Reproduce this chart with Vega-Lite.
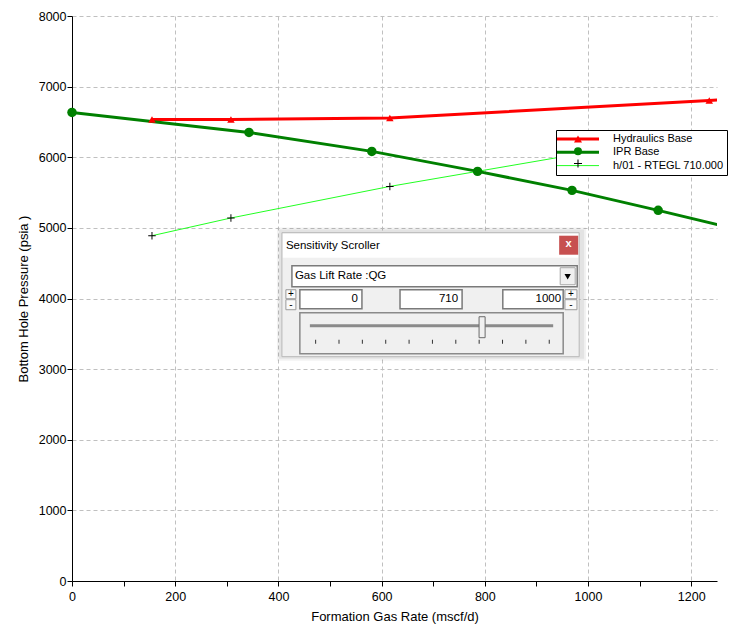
{
  "$schema": "https://vega.github.io/schema/vega-lite/v6.json",
  "width": 645,
  "height": 565,
  "autosize": {"type": "none"},
  "padding": {"left": 72, "top": 16, "right": 18, "bottom": 43},
  "background": "white",
  "config": {
    "view": {"stroke": null},
    "font": "Liberation Sans",
    "axis": {
      "labelFont": "Liberation Sans",
      "labelFontSize": 12.5,
      "labelColor": "#000000",
      "labelFlush": false,
      "labelOverlap": false,
      "tickColor": "#000000",
      "tickSize": 5,
      "domainColor": "#000000",
      "gridColor": "#c0c0c0",
      "gridDash": [4, 3],
      "titleFont": "Liberation Sans",
      "titleFontSize": 13,
      "titleFontWeight": "normal",
      "titleColor": "#000000"
    }
  },
  "data": {
    "values": [
      {"series": "Hydraulics Base", "rate": 155, "pressure": 6535},
      {"series": "Hydraulics Base", "rate": 308, "pressure": 6535},
      {"series": "Hydraulics Base", "rate": 616, "pressure": 6555},
      {"series": "Hydraulics Base", "rate": 1235, "pressure": 6805},
      {"series": "Hydraulics Base", "rate": 1300, "pressure": 6825},
      {"series": "IPR Base", "rate": 0, "pressure": 6635},
      {"series": "IPR Base", "rate": 343, "pressure": 6352},
      {"series": "IPR Base", "rate": 581, "pressure": 6083},
      {"series": "IPR Base", "rate": 786, "pressure": 5800},
      {"series": "IPR Base", "rate": 969, "pressure": 5531},
      {"series": "IPR Base", "rate": 1136, "pressure": 5248},
      {"series": "IPR Base", "rate": 1300, "pressure": 4960},
      {"series": "h/01 - RTEGL 710.000", "rate": 155, "pressure": 4889},
      {"series": "h/01 - RTEGL 710.000", "rate": 308, "pressure": 5140},
      {"series": "h/01 - RTEGL 710.000", "rate": 616, "pressure": 5587},
      {"series": "h/01 - RTEGL 710.000", "rate": 1100, "pressure": 6195}
    ]
  },
  "layer": [
    {
      "mark": {"type": "line", "clip": true},
      "encoding": {
        "x": {
          "field": "rate", "type": "quantitative",
          "scale": {"domain": [0, 1250], "nice": false, "zero": false},
          "axis": {
            "title": "Formation Gas Rate (mscf/d)",
            "values": [0, 100, 200, 300, 400, 500, 600, 700, 800, 900, 1000, 1100, 1200],
            "format": "d",
            "labelExpr": "datum.value % 200 === 0 ? datum.label : ''",
            "labelPadding": 4,
            "titlePadding": 8,
            "grid": true,
            "gridOpacity": {"condition": {"test": "datum.value % 200 === 0 && datum.value > 0", "value": 1}, "value": 0}
          }
        },
        "y": {
          "field": "pressure", "type": "quantitative",
          "scale": {"domain": [0, 8000], "nice": false},
          "axis": {
            "title": "Bottom Hole Pressure (psia )",
            "values": [0, 500, 1000, 1500, 2000, 2500, 3000, 3500, 4000, 4500, 5000, 5500, 6000, 6500, 7000, 7500, 8000],
            "format": "d",
            "labelExpr": "datum.value % 1000 === 0 ? datum.label : ''",
            "labelPadding": 1,
            "titlePadding": 8,
            "grid": true,
            "gridOpacity": {"condition": {"test": "datum.value % 1000 === 0 && datum.value > 0", "value": 1}, "value": 0}
          }
        },
        "stroke": {
          "field": "series", "type": "nominal",
          "scale": {"range": ["#ff0000", "#008000", "#22ff22"]},
          "legend": {
            "orient": "none", "legendX": 484, "legendY": 114,
            "title": null, "padding": 3.5,
            "fillColor": "#ffffff", "strokeColor": "#000000",
            "symbolType": "M-5.25,0H5.25", "symbolSize": 64, "symbolStrokeWidth": 3,
            "symbolOffset": 13, "labelOffset": 29.5,
            "labelFont": "Liberation Sans", "labelFontSize": 11, "labelColor": "#000000",
            "rowPadding": 0.3, "zindex": 1,
            "encode": {"symbols": {"update": {"strokeWidth": {"signal": "datum.value === 'h/01 - RTEGL 710.000' ? 1 : 3"}}}}
          }
        },
        "strokeWidth": {"condition": {"test": "datum.series === 'h/01 - RTEGL 710.000'", "value": 1}, "value": 3}
      }
    },
    {
      "transform": [{"filter": "datum.rate <= 1250"}],
      "mark": {"type": "point", "filled": true, "opacity": 1, "size": 64},
      "encoding": {
        "x": {"field": "rate", "type": "quantitative"},
        "y": {"field": "pressure", "type": "quantitative"},
        "fill": {
          "field": "series", "type": "nominal",
          "scale": {"domain": ["Hydraulics Base", "IPR Base", "h/01 - RTEGL 710.000"], "range": ["#ff0000", "#008000", "#000000"]},
          "legend": {
            "orient": "none", "legendX": 484, "legendY": 114,
            "title": null, "padding": 3.5,
            "fillColor": "transparent", "strokeColor": "transparent",
            "symbolSize": 64, "symbolStrokeWidth": 0,
            "symbolOffset": 13, "labelOffset": 29.5,
            "labelFont": "Liberation Sans", "labelFontSize": 11, "labelColor": "transparent",
            "labelExpr": "' '",
            "rowPadding": 0.3, "zindex": 2
          }
        },
        "shape": {
          "field": "series", "type": "nominal",
          "scale": {"domain": ["Hydraulics Base", "IPR Base", "h/01 - RTEGL 710.000"], "range": ["triangle-up", "circle", "M-1,-0.13H1V0.13H-1ZM-0.13,-1H0.13V1H-0.13Z"]},
          "legend": {
            "orient": "none", "legendX": 484, "legendY": 114,
            "title": null, "padding": 3.5,
            "fillColor": "transparent", "strokeColor": "transparent",
            "symbolSize": 64, "symbolStrokeWidth": 0,
            "symbolOffset": 13, "labelOffset": 29.5,
            "labelFont": "Liberation Sans", "labelFontSize": 11, "labelColor": "transparent",
            "labelExpr": "' '",
            "rowPadding": 0.3, "zindex": 2
          }
        },
        "size": {"condition": {"test": "datum.series === 'IPR Base'", "value": 90}, "value": 56}
      }
    },
    {"data": {"values": [{}]}, "mark": {"type": "rect", "fill": "#000000", "opacity": 0.05}, "encoding": {"x": {"datum": 397}, "x2": {"datum": 996.5}, "y": {"datum": 5006}, "y2": {"datum": 3118}}},
    {"data": {"values": [{}]}, "mark": {"type": "rect", "fill": "#000000", "opacity": 0.06}, "encoding": {"x": {"datum": 401}, "x2": {"datum": 992.6}, "y": {"datum": 4978}, "y2": {"datum": 3147}}},
    {"data": {"values": [{}]}, "mark": {"type": "rect", "fill": "#f0f0f0", "stroke": "#b8b8b8", "strokeWidth": 1}, "encoding": {"x": {"datum": 406.8}, "x2": {"datum": 982.9}, "y": {"datum": 4932}, "y2": {"datum": 3176}}},
    {"data": {"values": [{}]}, "mark": {"type": "rect", "fill": "#ffffff"}, "encoding": {"x": {"datum": 408.7}, "x2": {"datum": 981.0}, "y": {"datum": 4917}, "y2": {"datum": 4577}}},
    {"data": {"values": [{}]}, "mark": {"type": "text", "text": "Sensitivity Scroller", "align": "left", "baseline": "middle", "font": "Liberation Sans", "fontSize": 11.5, "color": "#000000"}, "encoding": {"x": {"datum": 414.5}, "y": {"datum": 4747}}},
    {"data": {"values": [{}]}, "mark": {"type": "rect", "fill": "#c75050"}, "encoding": {"x": {"datum": 944.1}, "x2": {"datum": 981.0}, "y": {"datum": 4889}, "y2": {"datum": 4620}}},
    {"data": {"values": [{}]}, "mark": {"type": "text", "text": "x", "align": "center", "baseline": "middle", "font": "Liberation Sans", "fontSize": 11, "fontWeight": "bold", "color": "#ffffff"}, "encoding": {"x": {"datum": 962.5}, "y": {"datum": 4770}}},
    {"data": {"values": [{}]}, "mark": {"type": "rect", "fill": "#ffffff", "stroke": "#7a7a7a", "strokeWidth": 1.5}, "encoding": {"x": {"datum": 426.2}, "x2": {"datum": 979.1}, "y": {"datum": 4464}, "y2": {"datum": 4167}}},
    {"data": {"values": [{}]}, "mark": {"type": "text", "text": "Gas Lift Rate :QG", "align": "left", "baseline": "middle", "font": "Liberation Sans", "fontSize": 11.5, "color": "#000000"}, "encoding": {"x": {"datum": 432.0}, "y": {"datum": 4316}}},
    {"data": {"values": [{}]}, "mark": {"type": "rect", "fill": "#f0f0f0", "stroke": "#a8a8a8", "strokeWidth": 1}, "encoding": {"x": {"datum": 946.1}, "x2": {"datum": 975.2}, "y": {"datum": 4436}, "y2": {"datum": 4195}}},
    {"data": {"values": [{}]}, "mark": {"type": "point", "shape": "triangle-down", "filled": true, "color": "#000000", "opacity": 1, "size": 40}, "encoding": {"x": {"datum": 960.6}, "y": {"datum": 4309}}},
    {"data": {"values": [{}]}, "mark": {"type": "rect", "fill": "#ffffff", "stroke": "#7a7a7a", "strokeWidth": 1.5}, "encoding": {"x": {"datum": 441.6}, "x2": {"datum": 561.9}, "y": {"datum": 4124}, "y2": {"datum": 3855}}},
    {"data": {"values": [{}]}, "mark": {"type": "rect", "fill": "#ffffff", "stroke": "#7a7a7a", "strokeWidth": 1.5}, "encoding": {"x": {"datum": 635.7}, "x2": {"datum": 756.0}, "y": {"datum": 4124}, "y2": {"datum": 3855}}},
    {"data": {"values": [{}]}, "mark": {"type": "rect", "fill": "#ffffff", "stroke": "#7a7a7a", "strokeWidth": 1.5}, "encoding": {"x": {"datum": 834.9}, "x2": {"datum": 951.9}, "y": {"datum": 4124}, "y2": {"datum": 3855}}},
    {"data": {"values": [{}]}, "mark": {"type": "text", "text": "0", "align": "right", "baseline": "middle", "font": "Liberation Sans", "fontSize": 11.5, "color": "#000000"}, "encoding": {"x": {"datum": 554.2}, "y": {"datum": 3990}}},
    {"data": {"values": [{}]}, "mark": {"type": "text", "text": "710", "align": "right", "baseline": "middle", "font": "Liberation Sans", "fontSize": 11.5, "color": "#000000"}, "encoding": {"x": {"datum": 748.2}, "y": {"datum": 3990}}},
    {"data": {"values": [{}]}, "mark": {"type": "text", "text": "1000", "align": "right", "baseline": "middle", "font": "Liberation Sans", "fontSize": 11.5, "color": "#000000"}, "encoding": {"x": {"datum": 948.0}, "y": {"datum": 3990}}},
    {"data": {"values": [{}]}, "mark": {"type": "rect", "fill": "#fafafa", "stroke": "#9a9a9a", "strokeWidth": 1}, "encoding": {"x": {"datum": 414.5}, "x2": {"datum": 433.9}, "y": {"datum": 4124}, "y2": {"datum": 3997}}},
    {"data": {"values": [{}]}, "mark": {"type": "rect", "fill": "#fafafa", "stroke": "#9a9a9a", "strokeWidth": 1}, "encoding": {"x": {"datum": 414.5}, "x2": {"datum": 433.9}, "y": {"datum": 3983}, "y2": {"datum": 3841}}},
    {"data": {"values": [{}]}, "mark": {"type": "rect", "fill": "#fafafa", "stroke": "#9a9a9a", "strokeWidth": 1}, "encoding": {"x": {"datum": 955.3}, "x2": {"datum": 978.6}, "y": {"datum": 4124}, "y2": {"datum": 3997}}},
    {"data": {"values": [{}]}, "mark": {"type": "rect", "fill": "#fafafa", "stroke": "#9a9a9a", "strokeWidth": 1}, "encoding": {"x": {"datum": 955.3}, "x2": {"datum": 978.6}, "y": {"datum": 3983}, "y2": {"datum": 3841}}},
    {"data": {"values": [{}]}, "mark": {"type": "text", "text": "+", "align": "center", "baseline": "middle", "font": "Liberation Sans", "fontSize": 10, "color": "#000000"}, "encoding": {"x": {"datum": 424.2}, "y": {"datum": 4068}}},
    {"data": {"values": [{}]}, "mark": {"type": "text", "text": "-", "align": "center", "baseline": "middle", "font": "Liberation Sans", "fontSize": 10, "color": "#000000"}, "encoding": {"x": {"datum": 424.2}, "y": {"datum": 3905}}},
    {"data": {"values": [{}]}, "mark": {"type": "text", "text": "+", "align": "center", "baseline": "middle", "font": "Liberation Sans", "fontSize": 10, "color": "#000000"}, "encoding": {"x": {"datum": 967.0}, "y": {"datum": 4068}}},
    {"data": {"values": [{}]}, "mark": {"type": "text", "text": "-", "align": "center", "baseline": "middle", "font": "Liberation Sans", "fontSize": 10, "color": "#000000"}, "encoding": {"x": {"datum": 967.0}, "y": {"datum": 3905}}},
    {"data": {"values": [{}]}, "mark": {"type": "rect", "fill": "#f0f0f0", "stroke": "#8a8a8a", "strokeWidth": 1.5}, "encoding": {"x": {"datum": 441.6}, "x2": {"datum": 951.9}, "y": {"datum": 3799}, "y2": {"datum": 3218}}},
    {"data": {"values": [{}]}, "mark": {"type": "rule", "stroke": "#8a8a8a", "strokeWidth": 3}, "encoding": {"x": {"datum": 461.0}, "x2": {"datum": 932.5}, "y": {"datum": 3615}}},
    {"data": {"values": [{}]}, "mark": {"type": "rect", "fill": "#f0f0f0", "stroke": "#6a6a6a", "strokeWidth": 1}, "encoding": {"x": {"datum": 788.9}, "x2": {"datum": 800.6}, "y": {"datum": 3742}, "y2": {"datum": 3445}}},
    {"data": {"values": [{}]}, "mark": {"type": "rule", "stroke": "#333333", "strokeWidth": 4, "strokeDash": [1, 22.36], "strokeCap": "butt"}, "encoding": {"x": {"datum": 471.2}, "x2": {"datum": 926.3}, "y": {"datum": 3388}}}
  ]
}
